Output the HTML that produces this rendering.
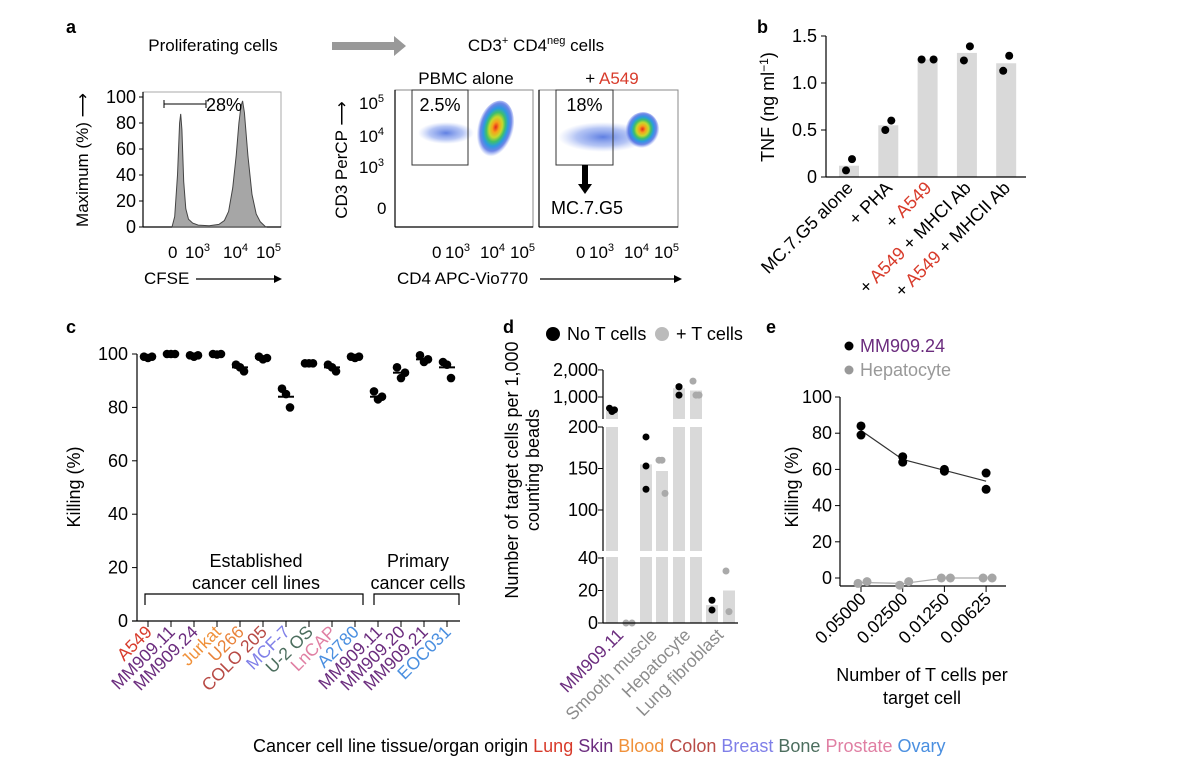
<!DOCTYPE html>
<html><head><meta charset="utf-8">
<style>
html,body{margin:0;padding:0;background:#fff;}
svg{display:block;font-family:"Liberation Sans",Arial,sans-serif;}
.t{font-size:17px;fill:#000;}
.tk{font-size:18px;fill:#000;}
.pl{font-size:18px;font-weight:bold;fill:#000;}
</style></head>
<body>
<svg id="fig" width="1200" height="772" viewBox="0 0 1200 772" xmlns="http://www.w3.org/2000/svg">
<defs>
<radialGradient id="blob" cx="50%" cy="45%" r="50%">
<stop offset="0" stop-color="#e3261d"/><stop offset="0.18" stop-color="#f7a21b"/><stop offset="0.35" stop-color="#c6d92c"/><stop offset="0.5" stop-color="#3fbf6b"/><stop offset="0.65" stop-color="#2a9be0"/><stop offset="0.82" stop-color="#3355dd" stop-opacity="0.7"/><stop offset="1" stop-color="#5577ee" stop-opacity="0"/>
</radialGradient>
<radialGradient id="band" cx="50%" cy="50%" r="50%">
<stop offset="0" stop-color="#2a55d8" stop-opacity="0.75"/><stop offset="0.6" stop-color="#5a7ee8" stop-opacity="0.45"/><stop offset="1" stop-color="#8aa2f0" stop-opacity="0"/>
</radialGradient>
</defs>

<!-- Panel a -->
<text class="pl" x="66" y="33">a</text>
<text class="t" x="213" y="51" text-anchor="middle" font-size="18.5">Proliferating cells</text>
<polygon points="332,42 394,42 394,36 406,46 394,56 394,50 332,50" fill="#999"/>
<text class="t" x="536" y="51" text-anchor="middle" font-size="18.5">CD3<tspan dy="-7" font-size="11">+</tspan><tspan dy="7"> CD4</tspan><tspan dy="-7" font-size="11">neg</tspan><tspan dy="7"> cells</tspan></text>
<g id="hist"></g>
<text class="t" transform="rotate(-90 88 160)" x="88" y="160" text-anchor="middle" font-size="18">Maximum (%) ⟶</text>
<text class="t" x="144" y="284" font-size="18">CFSE</text>
<line x1="196" y1="279" x2="278" y2="279" stroke="#000" stroke-width="1.2"/><polygon points="282,279 274,275 274,283" fill="#000"/>
<g id="flow"></g>
<text class="t" x="466" y="84" text-anchor="middle" font-size="18">PBMC alone</text>
<text class="t" x="612" y="84" text-anchor="middle" font-size="18">+ <tspan fill="#d83b2b">A549</tspan></text>
<text class="t" transform="rotate(-90 347 160)" x="347" y="160" text-anchor="middle" font-size="18">CD3 PerCP ⟶</text>
<text class="t" x="397" y="284" font-size="18">CD4 APC-Vio770</text>
<line x1="540" y1="279" x2="678" y2="279" stroke="#000" stroke-width="1.2"/><polygon points="682,279 674,275 674,283" fill="#000"/>

<!-- Panel b -->
<text class="pl" x="757" y="33">b</text>
<g id="pb"></g>
<text class="tk" transform="rotate(-90 774 107)" x="774" y="107" text-anchor="middle">TNF (ng ml<tspan dy="-6" font-size="12">−1</tspan><tspan dy="6">)</tspan></text>

<!-- Panel c -->
<text class="pl" x="66" y="333">c</text>
<g id="pc"></g>
<text class="tk" transform="rotate(-90 80 487)" x="80" y="487" text-anchor="middle">Killing (%)</text>
<text class="tk" x="256" y="567" text-anchor="middle">Established</text>
<text class="tk" x="256" y="589" text-anchor="middle">cancer cell lines</text>
<text class="tk" x="418" y="567" text-anchor="middle">Primary</text>
<text class="tk" x="418" y="589" text-anchor="middle">cancer cells</text>
<path d="M145,605 V594 H363 V605" fill="none" stroke="#000" stroke-width="1.2"/>
<path d="M374,605 V594 H459 V605" fill="none" stroke="#000" stroke-width="1.2"/>
<text class="tk" x="253" y="752">Cancer cell line tissue/organ origin <tspan fill="#d83b2b">Lung</tspan> <tspan fill="#6b2c7e">Skin</tspan> <tspan fill="#f0913a">Blood</tspan> <tspan fill="#b84a45">Colon</tspan> <tspan fill="#7f7fe8">Breast</tspan> <tspan fill="#4c6e5e">Bone</tspan> <tspan fill="#e07fa3">Prostate</tspan> <tspan fill="#4a8fe0">Ovary</tspan></text>

<!-- Panel d -->
<text class="pl" x="503" y="333">d</text>
<circle cx="553" cy="334" r="7" fill="#000"/>
<text class="tk" x="567" y="340">No T cells</text>
<circle cx="662" cy="334" r="7" fill="#bbb"/>
<text class="tk" x="676" y="340">+ T cells</text>
<g id="pd"></g>
<text class="tk" transform="rotate(-90 518 470)" x="518" y="470" text-anchor="middle">Number of target cells per 1,000</text>
<text class="tk" transform="rotate(-90 539 470)" x="539" y="470" text-anchor="middle">counting beads</text>

<!-- Panel e -->
<text class="pl" x="766" y="333">e</text>
<circle cx="849" cy="346" r="4.5" fill="#000"/>
<text class="tk" x="860" y="352" style="fill:#6b2c7e">MM909.24</text>
<circle cx="849" cy="370" r="4.5" fill="#999"/>
<text class="tk" x="860" y="376" style="fill:#999">Hepatocyte</text>
<g id="pe"></g>
<text class="tk" transform="rotate(-90 798 487)" x="798" y="487" text-anchor="middle">Killing (%)</text>
<text class="tk" x="922" y="681" text-anchor="middle">Number of T cells per</text>
<text class="tk" x="922" y="704" text-anchor="middle">target cell</text>
</svg>

<script>
// ---------- data ----------
const histChannels = [21,23,25,26.5,27.3,28.2,29.5,31,33,36,40,48,55,59,62,65,67.5,69.5,71,72.2,73.5,76,79,82,85,89];
const histHeights  = [0,8,40,80,87,75,35,14,6,3,1.5,1,2,5,12,30,55,80,93,97,88,55,25,10,4,0];
const histYTicks = [0,20,40,60,80,100];

const bCategories = ['MC.7.G5 alone','+ PHA','+ A549','+ A549 + MHCI Ab','+ A549 + MHCII Ab'];
const bBars = [0.12,0.55,1.25,1.32,1.21];
const bDots = [[0.07,0.19],[0.5,0.6],[1.25,1.25],[1.24,1.39],[1.13,1.29]];
const bTicks = [0,0.5,1.0,1.5];
const bTickLabels = ['0','0.5','1.0','1.5'];

const cCategories = ['A549','MM909.11','MM909.24','Jurkat','U266','COLO 205','MCF-7','U-2 OS','LnCAP','A2780','MM909.11','MM909.20','MM909.21','EOC031'];
const cColors = ['#d83b2b','#6b2c7e','#6b2c7e','#f0913a','#e8823a','#b84a45','#7f7fe8','#4c6e5e','#e07fa3','#4a8fe0','#6b2c7e','#6b2c7e','#6b2c7e','#4a8fe0'];
const cValues = [[99,98.5,99],[100,100,100],[99.5,99,99.5],[100,99.8,100],[96,95,93.5],[99,98,98.5],[87,85,80],[96.5,96.5,96.5],[96,95,93.5],[99,98.5,99],[86,83,84],[95,91,93],[99.5,97,98],[97,96,91]];
const cMeans = [99,100,99.3,100,95,98.5,84,96.5,95,99,84,93,98,95];
const cTicks = [0,20,40,60,80,100];

const dCategories = ['MM909.11','Smooth muscle','Hepatocyte','Lung fibroblast'];
const dNoTBars = [700,155,1250,11];
const dTBars = [0,147,1180,20];
const dNoTDots = [[750,690,720],[188,153,125],[1300,1300,1050],[14,8]];
const dTDots = [[0,0],[160,160,120],[1500,1050,1050],[32,7]];
const dTicks = [0,20,40,100,150,200,1000,2000];
const dTickLabels = ['0','20','40','100','150','200','1,000','2,000'];

const eCategories = ['0.05000','0.02500','0.01250','0.00625'];
const eMM = [[84,79],[67,64],[60,59],[58,49]];
const eHep = [[-3,-2],[-4,-2],[0,0],[0,0]];
const eTicks = [0,20,40,60,80,100];

// ---------- helpers ----------
const NS='http://www.w3.org/2000/svg';
function mk(tag, attrs, parent){const e=document.createElementNS(NS,tag);for(const k in attrs)e.setAttribute(k,attrs[k]);parent.appendChild(e);return e;}
const mean = a => a.reduce((s,v)=>s+v,0)/a.length;
function sup(g,x,y,base,exp,fs){
  const t=mk('text',{x:x,y:y,'font-size':fs},g);
  t.innerHTML=base+(exp?'<tspan dy="-7" font-size="'+(fs*0.65)+'">'+exp+'</tspan>':'');
  return t;
}

// ---------- panel a: histogram ----------
(function(){
  const g=document.getElementById('hist');
  const L=143,R=281,T=92,B=227;
  const x=c=>L+c*(R-L)/100, y=v=>227-v*1.3;
  const frame=mk('rect',{x:L,y:T,width:R-L,height:B-T,fill:'none',stroke:'#aaa','stroke-width':1},g);
  
  
  mk('line',{x1:L,y1:T,x2:L,y2:B,stroke:'#000','stroke-width':1.2},g);
  mk('line',{x1:L,y1:B,x2:R,y2:B,stroke:'#000','stroke-width':1.2},g);
  let d='M'+x(histChannels[0])+','+y(0);
  histChannels.forEach((c,i)=>{d+=' L'+x(c).toFixed(1)+','+y(histHeights[i]).toFixed(1);});
  d+=' Z';
  const p=mk('path',{d:d,fill:'#a6a6a6',stroke:'#444','stroke-width':1},g);
  
  
  histYTicks.forEach(v=>{
    mk('line',{x1:L-4,y1:y(v),x2:L,y2:y(v),stroke:'#000'},g);
    const t=mk('text',{x:L-7,y:y(v)+6,'text-anchor':'end','font-size':18},g);
    t.textContent=v;
    
    
  });
  mk('line',{x1:164,y1:104,x2:206,y2:104,stroke:'#000'},g);
  mk('line',{x1:164,y1:100,x2:164,y2:108,stroke:'#000'},g);
  mk('line',{x1:206,y1:100,x2:206,y2:108,stroke:'#000'},g);
  const pc=mk('text',{x:206,y:111,'font-size':18},g); pc.textContent='28%';
  
  
  [[168,'0',''],[185,'10','3'],[223,'10','4'],[256,'10','5']].forEach(([xx,b,e])=>{
    const t=sup(g,xx,258,b,e,17);
    
    
  });
})();

// ---------- panel a: flow plots ----------
(function(){
  const g=document.getElementById('flow');
  const boxes=[{L:395,R:533,gate:412,gr:468,txt:'2.5%',blob:[495,130,18,30],band:[446,133,28,11]},
               {L:539,R:678,gate:556,gr:613,txt:'18%',blob:[642,131,17,19],band:[603,137,45,15]}];
  boxes.forEach((b,i)=>{
    const f=mk('rect',{x:b.L,y:90,width:b.R-b.L,height:137,fill:'none',stroke:'#888','stroke-width':1},g);
    
    
    mk('line',{x1:b.L,y1:90,x2:b.L,y2:227,stroke:'#000','stroke-width':1.2},g);
    mk('line',{x1:b.L,y1:227,x2:b.R,y2:227,stroke:'#000','stroke-width':1.2},g);
    mk('ellipse',{cx:b.band[0],cy:b.band[1],rx:b.band[2],ry:b.band[3],fill:'url(#band)'},g);
    mk('ellipse',{cx:b.blob[0],cy:b.blob[1],rx:b.blob[2],ry:b.blob[3],fill:'url(#blob)',transform:`rotate(15 ${b.blob[0]} ${b.blob[1]})`},g);
    const gt=mk('rect',{x:b.gate,y:90,width:b.gr-b.gate,height:75,fill:'none',stroke:'#333','stroke-width':1},g);
    
    
    const t=mk('text',{x:(b.gate+b.gr)/2,y:111,'text-anchor':'middle','font-size':18},g);
    t.textContent=b.txt;
    
    
    [[b.L+37,'0',''],[b.L+50,'10','3'],[b.L+85,'10','4'],[b.L+115,'10','5']].forEach(([xx,bb,e])=>{
      const tt=sup(g,xx,258,bb,e,17);
      
      
    });
  });
  [[102,'5'],[135,'4'],[166,'3']].forEach(([yy,e])=>{
    const t=sup(g,359,yy+7,'10',e,17);
    
    
  });
  const z=mk('text',{x:377,y:214,'font-size':17},g); z.textContent='0';
  mk('rect',{x:582,y:165,width:6,height:20,fill:'#000'},g);
  mk('polygon',{points:'578,184 592,184 585,194',fill:'#000'},g);
  const m=mk('text',{x:551,y:214,'font-size':18},g); m.textContent='MC.7.G5';
  
  
})();

// ---------- panel b ----------
(function(){
  const g=document.getElementById('pb');
  const x=i=>849+i*39.3, y=v=>177-v*94;
  bBars.forEach((v,i)=>{
    const r=mk('rect',{x:x(i)-10,y:y(v),width:20,height:y(0)-y(v),fill:'#d9d9d9'},g);
    
    
    bDots[i].forEach((d,j)=>{
      const off = Math.abs(bDots[i][0]-bDots[i][1])<0.05 ? (j?6:-6) : (j?3:-3);
      const c=mk('circle',{cx:x(i)+off,cy:y(d),r:4,fill:'#000'},g);
      
      
    });
    const t=mk('text',{x:x(i)+5,y:189,'text-anchor':'end','font-size':18,transform:`rotate(-45 ${x(i)+5} 189)`},g);
    t.innerHTML=bCategories[i].replace(/A549/g,'<tspan fill="#d83b2b">A549</tspan>');
    
    
  });
  mk('line',{x1:826,y1:y(1.5),x2:826,y2:177,stroke:'#000','stroke-width':1.2},g);
  mk('line',{x1:826,y1:177,x2:1026,y2:177,stroke:'#000','stroke-width':1.2},g);
  bTicks.forEach((v,i)=>{
    mk('line',{x1:821,y1:y(v),x2:826,y2:y(v),stroke:'#000'},g);
    const t=mk('text',{x:817,y:y(v)+6,'text-anchor':'end','font-size':18},g);
    t.textContent=bTickLabels[i];
    
    
  });
})();

// ---------- panel c ----------
(function(){
  const g=document.getElementById('pc');
  const x=i=>148+i*23, y=v=>621-v*2.67;
  mk('line',{x1:137,y1:y(100),x2:137,y2:621,stroke:'#000','stroke-width':1.2},g);
  mk('line',{x1:132,y1:621,x2:460,y2:621,stroke:'#000','stroke-width':1.2},g);
  cTicks.forEach(v=>{
    mk('line',{x1:132,y1:y(v),x2:137,y2:y(v),stroke:'#000'},g);
    const t=mk('text',{x:128,y:y(v)+6,'text-anchor':'end','font-size':18},g);
    t.textContent=v;
    
    
  });
  const offs=[-4,0,4];
  cCategories.forEach((name,i)=>{
    mk('line',{x1:x(i),y1:621,x2:x(i),y2:627,stroke:'#000'},g);
    cValues[i].forEach((v,j)=>{
      const c=mk('circle',{cx:x(i)+offs[j],cy:y(v),r:4.3,fill:'#000'},g);
      
      
    });
    const m=mk('line',{x1:x(i)-8,y1:y(cMeans[i]),x2:x(i)+8,y2:y(cMeans[i]),stroke:'#000','stroke-width':2},g);
    
    
    const t=mk('text',{x:x(i)+5,y:633,'text-anchor':'end','font-size':17.5,fill:cColors[i],transform:`rotate(-45 ${x(i)+5} 633)`},g);
    t.textContent=name;
    
    
  });
})();

// ---------- panel d ----------
(function(){
  const g=document.getElementById('pd');
  const y=v=> v<=42 ? 623-v*1.625 : (v<=205 ? 427+(200-v)*0.83 : 397-Math.log10(v/1000)*90);
  const xs=[612,629,646,662,679,696,712,729];
  dCategories.forEach((name,i)=>{
    const x0=xs[2*i], x1=xs[2*i+1];
    const r0=mk('rect',{x:x0-6,y:y(dNoTBars[i]),width:12,height:623-y(dNoTBars[i]),fill:'#d9d9d9'},g);
    
    
    const r1=mk('rect',{x:x1-6,y:y(dTBars[i]),width:12,height:623-y(dTBars[i]),fill:'#d9d9d9'},g);
    
    
  });
  mk('rect',{x:598,y:419,width:140,height:8,fill:'#fff'},g);
  mk('rect',{x:598,y:551,width:140,height:6,fill:'#fff'},g);
  dCategories.forEach((name,i)=>{
    const x0=xs[2*i], x1=xs[2*i+1];
    dNoTDots[i].forEach((v,j)=>{
      const c=mk('circle',{cx:x0+(i===0?(j-1)*2.5:0),cy:y(v),r:3.5,fill:'#000'},g);
      
      
    });
    dTDots[i].forEach((v,j)=>{
      const c=mk('circle',{cx:x1+(dTDots[i].length===2&&i===0?(j?3:-3):(j-1)*3),cy:y(v),r:3.5,fill:'#aaa'},g);
      
      
    });
    const lx=(x0+x1)/2+4;
    const t=mk('text',{x:lx,y:636,'text-anchor':'end','font-size':17.5,fill:i===0?'#6b2c7e':'#8c8c8c',transform:`rotate(-45 ${lx} 636)`},g);
    t.textContent=name;
    
    
  });
  [[370,419],[427,551],[557,623]].forEach(([a,b])=>{
    mk('line',{x1:603,y1:a,x2:603,y2:b,stroke:'#000','stroke-width':1.2},g);
  });
  mk('line',{x1:603,y1:623,x2:738,y2:623,stroke:'#000','stroke-width':1.2},g);
  dTicks.forEach((v,i)=>{
    mk('line',{x1:598,y1:y(v),x2:603,y2:y(v),stroke:'#000'},g);
    const t=mk('text',{x:598,y:y(v)+6,'text-anchor':'end','font-size':18},g);
    t.textContent=dTickLabels[i];
    
    
  });
})();

// ---------- panel e ----------
(function(){
  const g=document.getElementById('pe');
  const x=i=>861+i*41.7, y=v=>578-v*1.81;
  mk('line',{x1:840,y1:y(100),x2:840,y2:586,stroke:'#000','stroke-width':1.2},g);
  mk('line',{x1:840,y1:586,x2:1006,y2:586,stroke:'#000','stroke-width':1.2},g);
  eTicks.forEach(v=>{
    mk('line',{x1:835,y1:y(v),x2:840,y2:y(v),stroke:'#000'},g);
    const t=mk('text',{x:832,y:y(v)+6,'text-anchor':'end','font-size':18},g);
    t.textContent=v;
    
    
  });
  const mmLine=eMM.map((p,i)=>x(i)+','+y(mean(p))).join(' ');
  const l1=mk('polyline',{points:mmLine,fill:'none',stroke:'#333','stroke-width':1.2},g);
  
  
  const hepLine=eHep.map((p,i)=>(x(i)+1)+','+y(mean(p))).join(' ');
  const l2=mk('polyline',{points:hepLine,fill:'none',stroke:'#aaa','stroke-width':1.2},g);
  
  
  eCategories.forEach((name,i)=>{
    mk('line',{x1:x(i),y1:586,x2:x(i),y2:592,stroke:'#000'},g);
    eHep[i].forEach((v,j)=>{
      const c=mk('circle',{cx:x(i)+(j?6:-3),cy:y(v),r:4.5,fill:'#a6a6a6'},g);
      
      
    });
    eMM[i].forEach(v=>{
      const c=mk('circle',{cx:x(i),cy:y(v),r:4.5,fill:'#000'},g);
      
      
    });
    const t=mk('text',{x:x(i)+6,y:600,'text-anchor':'end','font-size':17.5,transform:`rotate(-45 ${x(i)+6} 600)`},g);
    t.textContent=name;
    
    
  });
})();
</script>
</body></html>
